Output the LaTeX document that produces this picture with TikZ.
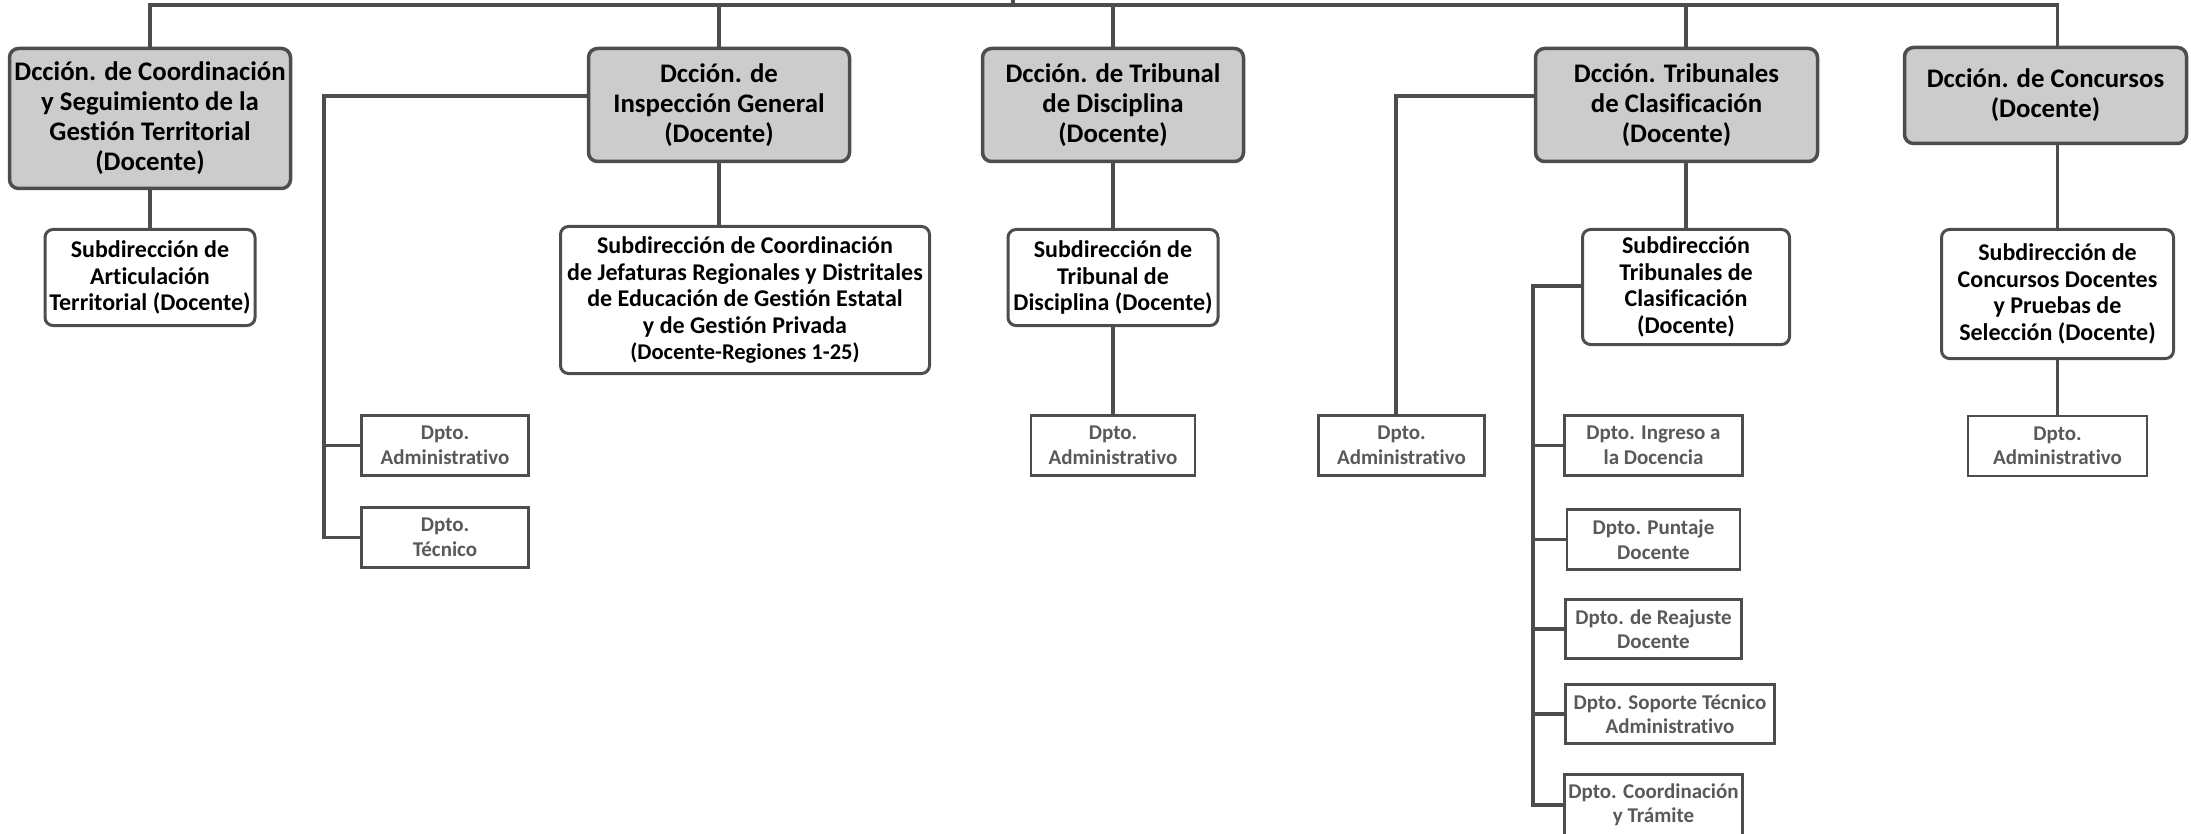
\documentclass[tikz,border=0pt]{standalone}
\usepackage{fontspec}
\setmainfont{Carlito}[Ligatures=CommonOff]
\usepackage{tikz}
\usetikzlibrary{positioning}

\definecolor{linegray}{HTML}{4D4D4D}
\definecolor{boxgray}{HTML}{CCCCCC}
\definecolor{dptotext}{HTML}{595959}

\begin{document}
\begin{tikzpicture}[x=1pt,y=-1pt,on grid,
	link/.style={draw=linegray,line width=3.5pt},
	dccion/.style={draw=linegray,fill=boxgray,line width=3.5pt,rounded corners=9pt,align=center,inner sep=0pt,font=\fontsize{26.8}{30}\selectfont\bfseries},
	subdir/.style={draw=linegray,fill=white,line width=3pt,rounded corners=8pt,align=center,inner sep=0pt,font=\fontsize{24}{26.5}\selectfont\bfseries},
	dpto/.style={draw=linegray,fill=white,line width=2.8pt,align=center,inner sep=0pt,text=dptotext,font=\fontsize{21}{24.5}\selectfont\bfseries}]
	\useasboundingbox (0,0) rectangle (2191,834);

	% direcciones
	\node[dccion,minimum width=281pt,minimum height=140pt] (DCT) at (150,118.5) {Dcción. de Coordinación\\y Seguimiento de la\\Gestión Territorial\\(Docente)};
	\node[dccion,minimum width=261pt,minimum height=113pt] (DIG) at (719,105) {Dcción. de\\Inspección General\\(Docente)};
	\node[dccion,minimum width=261pt,minimum height=113pt] (DTD) at (1113,105) {Dcción. de Tribunal\\de Disciplina\\(Docente)};
	\node[dccion,minimum width=282pt,minimum height=113pt] (DTC) at (1676.5,105) {Dcción. Tribunales\\de Clasificación\\(Docente)};
	\node[dccion,minimum width=282pt,minimum height=96pt] (DCO) at (2045.5,95.5) {Dcción. de Concursos\\(Docente)};

	% subdirecciones
	\node[subdir,minimum width=210pt,minimum height=96pt] (SAT) [below=159pt of DCT] {Subdirección de\\Articulación\\Territorial (Docente)};
	\node[subdir,minimum width=369pt,minimum height=147pt] (SJR) [below right=195pt and 26pt of DIG] {Subdirección de Coordinación\\de Jefaturas Regionales y Distritales\\de Educación de Gestión Estatal\\y de Gestión Privada\\{\fontsize{22.5}{24}\selectfont(Docente-Regiones 1-25)}};
	\node[subdir,minimum width=210pt,minimum height=96pt] (STD) [below=172.5pt of DTD] {Subdirección de\\Tribunal de\\Disciplina (Docente)};
	\node[subdir,minimum width=207pt,minimum height=115pt] (STC) [below right=182pt and 9.5pt of DTC] {Subdirección\\Tribunales de\\Clasificación\\(Docente)};
	\node[subdir,minimum width=232pt,minimum height=129pt] (SCD) [below right=198.5pt and 12pt of DCO] {Subdirección de\\Concursos Docentes\\y Pruebas de\\Selección (Docente)};

	% departamentos
	\node[dpto,minimum width=167pt,minimum height=60pt] (IGA) at (445,445.5) {Dpto.\\Administrativo};
	\node[dpto,minimum width=167pt,minimum height=60pt] (IGT) [below=92pt of IGA] {Dpto.\\Técnico};
	\node[dpto,minimum width=164pt,minimum height=60pt] (TDA) [below=168pt of STD] {Dpto.\\Administrativo};
	\node[dpto,minimum width=166pt,minimum height=60pt] (TCA) at (1401.5,445.5) {Dpto.\\Administrativo};
	\node[dpto,minimum width=178pt,minimum height=60pt] (TCI) at (1653.5,445.5) {Dpto. Ingreso a\\la Docencia};
	\node[dpto,minimum width=173pt,minimum height=60pt] (TCP) [below=94pt of TCI] {Dpto. Puntaje\\Docente};
	\node[dpto,minimum width=176pt,minimum height=59pt] (TCR) [below=89.5pt of TCP] {Dpto. de Reajuste\\Docente};
	\node[dpto,minimum width=209pt,minimum height=59pt] (TCS) at (1670,714) {Dpto. Soporte Técnico\\Administrativo};
	\node[dpto,minimum width=178pt,minimum height=61pt] (TCT) at (1653.5,805) {Dpto. Coordinación\\y Trámite};
	\node[dpto,minimum width=179pt,minimum height=60pt] (COA) [below=152pt of SCD] {Dpto.\\Administrativo};

	% linea superior
	\coordinate (root) at (1013,-10);
	\coordinate (bus) at (1013,5);
	\draw[link] (root) -- (bus);
	\draw[link] (DCT.north) |- (bus) -| (SCD.north |- DCO.north);
	\draw[link] (DIG.north |- bus) -- (DIG.north);
	\draw[link] (DTD.north |- bus) -- (DTD.north);
	\draw[link] (STC.north |- bus) -- (STC.north |- DTC.north);

	% ramas
	\coordinate (IGbus) at (324,96);
	\coordinate (TCbus) at (1396,96);
	\coordinate (STbus) at (1533,286);
	\draw[link] (DCT.south) -- (SAT.north);
	\draw[link] (DIG.south) -- (DIG.south |- SJR.north);
	\draw[link] (DIG.west |- IGbus) -- (IGbus) |- (IGT.west);
	\draw[link] (IGbus |- IGA.west) -- (IGA.west);
	\draw[link] (DTD.south) -- (STD.north);
	\draw[link] (STD.south) -- (TDA.north);
	\draw[link] (STC.north |- DTC.south) -- (STC.north);
	\draw[link] (DTC.west |- TCbus) -- (TCbus) -- (TCbus |- TCA.north);
	\draw[link] (STC.west |- STbus) -- (STbus) |- (TCT.west);
	\foreach \d in {TCI,TCP,TCR,TCS}
		\draw[link] (STbus |- \d.west) -- (\d.west);
	\draw[link] (SCD.north |- DCO.south) -- (SCD.north);
	\draw[link] (SCD.south) -- (COA.north);
\end{tikzpicture}
\end{document}
